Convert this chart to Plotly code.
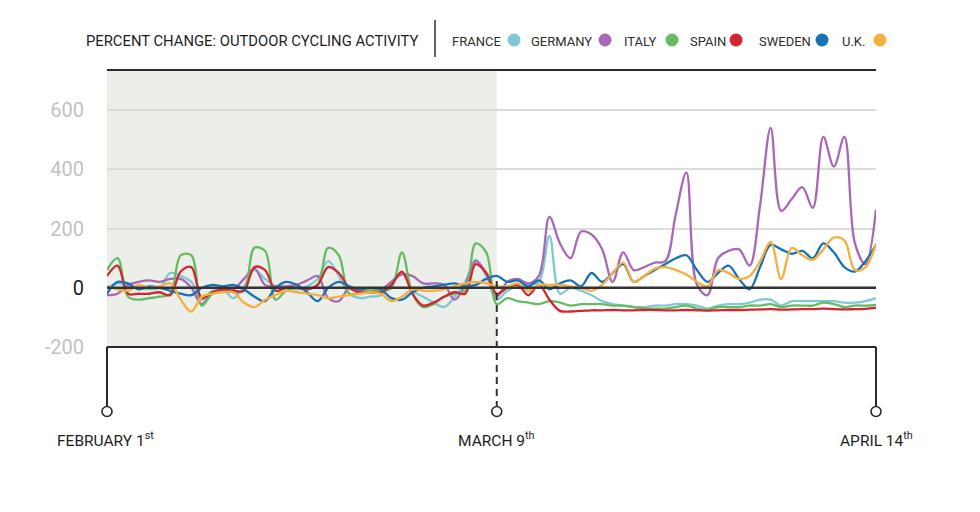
import pandas as pd
import plotly.graph_objects as go

# ---------------- data ----------------
DATES = pd.date_range("2020-02-01", "2020-04-14", freq="D").strftime("%Y-%m-%d").tolist()
LOCKDOWN_DATE = "2020-03-09"

FRANCE = [0, 15, 5, 0, -5, 0, 50, 40, 20, -40, -10, -5, -35, 5, 60, 30, 5, 0, -5, 5,
          30, 90, 40, -20, -35, -30, -25, 20, 50, -10, -30, -50, -65, -30, 20, 95, 40,
          -40, -10, 5, 10, 20, 175, -20, 0, -10, -25, -45, -55, -60, -65, -65, -60, -60,
          -55, -55, -60, -70, -60, -55, -55, -50, -40, -40, -60, -45, -45, -45, -45, -45,
          -50, -50, -45, -35]
GERMANY = [-25, -20, 10, 20, 25, 20, 30, 30, 0, -55, -15, -10, -5, 30, 65, 10, 5, 5, 10, 25,
           40, -35, -45, 0, -10, -10, -5, 20, 45, 40, 15, 15, 10, -40, 10, 90, 50,
           -30, 20, 30, 15, 40, 240, 150, 100, 190, 180, 130, 20, 120, 60, 70, 85, 90,
           250, 390, 10, -25, 100, 125, 130, 75, 280, 540, 260, 300, 340, 270, 510, 410,
           510, 150, 80, 265]
ITALY = [60, 100, -30, -40, -35, -30, -20, 110, 110, -60, -20, -10, -15, -10, 135, 125, -40,
         -10, 0, -5, 10, 135, 110, -20, -15, -10, -10, 0, 120, -20, -65, -55, -30, -20, -10,
         150, 120,
         -55, -35, -45, -50, -55, -45, -50, -60, -55, -55, -55, -60, -60, -65, -70, -70, -70,
         -65, -60, -70, -75, -65, -65, -65, -60, -60, -55, -65, -60, -60, -60, -50, -55,
         -65, -60, -60, -58]
SPAIN = [40, 75, -20, -20, -20, -15, -25, 55, 70, -35, -15, -5, -10, -10, 70, 60, -10, 0, 0,
         -5, 10, 70, 50, 0, -15, -15, -15, 10, 55, -20, -60, -50, -30, -15, -20, 80, 50,
         -20, 0, 10, -25, 10, -40, -78, -80, -78, -76, -76, -75, -76, -76, -75, -75, -76,
         -76, -75, -76, -77, -76, -75, -75, -74, -73, -72, -74, -73, -72, -72, -70, -72,
         -73, -72, -71, -68]
SWEDEN = [-20, 20, 15, -5, 5, 0, -10, -20, -25, 0, 10, 5, 10, -5, -30, -45, 0, 20, 10, -15,
          -45, 0, 20, 5, -5, 0, -5, -35, -40, -15, 0, 5, 10, 15, 5, 10, 30,
          40, 20, 25, 5, 25, -5, 15, 25, 5, 50, 20, 50, 80, 20, 40, 60, 80,
          100, 110, 60, 20, 50, 75, 30, -5, 70, 145, 130, 115, 125, 100, 150, 120,
          70, 55, 90, 145]
UK = [5, -5, -10, 10, 0, 5, 15, -40, -80, -30, -20, -15, -15, -50, -65, -40, -25, -10, -15,
      -20, -25, -35, -30, -25, -20, -15, -20, -45, -30, -5, -10, -10, -5, 5, 15, 20, 15,
      5, 5, 15, -10, 10, 10, 10, 5, 0, -10, 10, 50, 85, 20, 40, 65, 70,
      60, 45, 20, 5, 60, 50, 30, 40, 90, 155, 30, 135, 110, 95, 130, 170,
      160, 60, 70, 150]

SERIES_NAMES = ["FRANCE", "GERMANY", "ITALY", "SPAIN", "SWEDEN", "U.K."]
SERIES_VALUES = [FRANCE, GERMANY, ITALY, SPAIN, SWEDEN, UK]
SERIES_COLORS = ["#7fc9d4", "#a968b6", "#67bb63", "#d1272f", "#1a72b6", "#f6ae3f"]

Y_TICKS = [-200, 0, 200, 400, 600]
Y_RANGE = [-200, 736]
TITLE = "PERCENT CHANGE: OUTDOOR CYCLING ACTIVITY"
DATE_LABELS = ["FEBRUARY 1<sup>st</sup>", "MARCH 9<sup>th</sup>", "APRIL 14<sup>th</sup>"]

# ---------------- layout helpers ----------------
W, H = 980, 512
L, R, T, B = 107, 104, 70, 165
PW, PH = W - L - R, H - T - B
FONT = "Roboto, Liberation Sans, sans-serif"


def px(x):
    return (x - L) / PW


def py(y):
    return (H - B - y) / PH


fig = go.Figure()
for name, vals, col in zip(SERIES_NAMES, SERIES_VALUES, SERIES_COLORS):
    fig.add_trace(go.Scatter(x=DATES, y=vals, name=name, mode="lines",
                             line=dict(color=col, width=2.3, shape="spline", smoothing=1.0),
                             hoverinfo="skip", showlegend=False))

shapes = []
# shaded pre-lockdown area
shapes.append(dict(type="rect", xref="x", yref="paper", x0=DATES[0], x1=LOCKDOWN_DATE,
                   y0=0, y1=1, fillcolor="#eceeea", line=dict(width=0), layer="below"))
# top and bottom frame lines
for yy in (0, 1):
    shapes.append(dict(type="line", xref="paper", yref="paper", x0=0, x1=1, y0=yy, y1=yy,
                       line=dict(color="#2a2a2a", width=2), layer="above"))
# zero line on top of traces
shapes.append(dict(type="line", xref="paper", yref="y", x0=0, x1=1, y0=0, y1=0,
                   line=dict(color="#333333", width=2.5), layer="above"))
# vertical end stems
for xx in (0, 1):
    shapes.append(dict(type="line", xref="paper", yref="paper", x0=xx, x1=xx,
                       y0=0, y1=py(406), line=dict(color="#2a2a2a", width=2)))
# dashed lockdown stem
shapes.append(dict(type="line", xref="x", yref="paper", x0=LOCKDOWN_DATE, x1=LOCKDOWN_DATE,
                   y0=py(281), y1=py(406), line=dict(color="#333333", width=2, dash="7px,5px"),
                   layer="above"))
# open circles at stems
for xref, xa in (("paper", 0), ("x", LOCKDOWN_DATE), ("paper", 1)):
    shapes.append(dict(type="circle", xref=xref, yref="paper", xsizemode="pixel",
                       ysizemode="pixel", xanchor=xa, yanchor=py(411.5),
                       x0=-5, x1=5, y0=-5, y1=5, fillcolor="white",
                       line=dict(color="#2a2a2a", width=1.6)))
# title separator
shapes.append(dict(type="line", xref="paper", yref="paper", x0=px(435), x1=px(435),
                   y0=py(20), y1=py(57), line=dict(color="#333333", width=1.5)))

annotations = []
annotations.append(dict(text=TITLE, xref="paper", yref="paper", x=px(84), y=py(41),
                        xanchor="left", yanchor="middle", showarrow=False,
                        font=dict(family=FONT, size=14.8, color="#1e1e1e")))

legend_text_end = [503, 594, 659, 728, 813, 867]
legend_dot = [514, 605, 672, 736, 822, 880]
for name, col, te, dx in zip(SERIES_NAMES, SERIES_COLORS, legend_text_end, legend_dot):
    annotations.append(dict(text=name, xref="paper", yref="paper", x=px(te), y=py(41),
                            xanchor="right", yanchor="middle", showarrow=False,
                            font=dict(family=FONT, size=13, color="#2e2e2e")))
    shapes.append(dict(type="circle", xref="paper", yref="paper", xsizemode="pixel",
                       ysizemode="pixel", xanchor=px(dx), yanchor=py(40),
                       x0=-6.5, x1=6.5, y0=-6.5, y1=6.5, fillcolor=col,
                       line=dict(width=0)))

for lab, (xref, xa) in zip(DATE_LABELS, (("paper", px(105)), ("x", LOCKDOWN_DATE), ("paper", px(876)))):
    annotations.append(dict(text=lab, xref=xref, yref="paper", x=xa, y=py(440),
                            xanchor="center", yanchor="middle", showarrow=False,
                            font=dict(family=FONT, size=15.5, color="#1e1e1e")))

ticktext = [("<span style='color:#222222'>0</span>" if v == 0 else str(v)) for v in Y_TICKS]

fig.update_layout(
    width=W, height=H,
    margin=dict(l=L, r=R, t=T, b=B, pad=0),
    paper_bgcolor="white", plot_bgcolor="white",
    shapes=shapes, annotations=annotations,
    showlegend=False,
    xaxis=dict(type="date", range=[DATES[0], DATES[-1]], showgrid=False, zeroline=False,
               showticklabels=False, ticks="", showline=False, fixedrange=True),
    yaxis=dict(range=Y_RANGE, tickvals=Y_TICKS, ticktext=ticktext, showgrid=True,
               gridcolor="#dcdcdc", gridwidth=1.5, zeroline=False, showline=False,
               ticks="", ticklabelstandoff=22,
               tickfont=dict(family=FONT, size=20, color="#c2c2c2"), fixedrange=True),
)

fig.write_html("out.html")
